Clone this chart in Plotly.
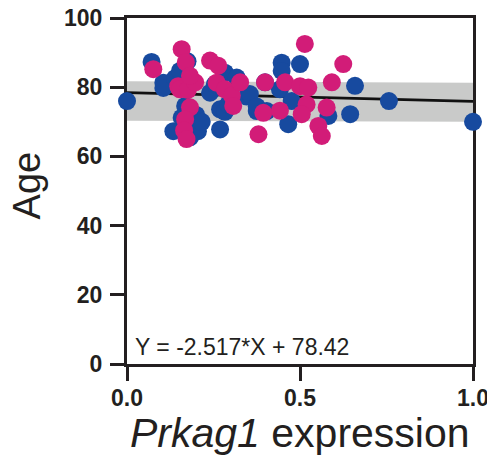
import plotly.graph_objects as go

# ---- data ----
blue_x = [0.00, 0.071, 0.105, 0.105, 0.139, 0.153, 0.175, 0.168, 0.134, 0.158, 0.182, 0.205, 0.197,
          0.200, 0.216, 0.240, 0.254, 0.269, 0.269, 0.283, 0.283, 0.292, 0.317, 0.346, 0.355, 0.375,
          0.375, 0.399, 0.404, 0.447, 0.447, 0.442, 0.500, 0.476, 0.466, 0.582, 0.659, 0.645, 0.757, 1.00]
blue_y = [76.0, 87.3, 81.3, 79.8, 82.6, 84.7, 87.5, 74.6, 67.3, 71.2, 65.5, 67.3, 70.7,
          72.0, 70.0, 78.4, 80.8, 73.6, 67.8, 84.2, 72.9, 75.0, 82.8, 77.3, 78.0, 73.1,
          74.4, 81.4, 73.1, 87.1, 84.7, 79.4, 86.7, 76.0, 69.3, 71.7, 80.4, 72.2, 76.0, 70.0]

pink_x = [0.076, 0.158, 0.170, 0.148, 0.153, 0.176, 0.197, 0.182, 0.240, 0.264, 0.182, 0.168, 0.165,
          0.172, 0.259, 0.283, 0.303, 0.307, 0.327, 0.380, 0.399, 0.394, 0.442, 0.457, 0.514, 0.500,
          0.524, 0.519, 0.505, 0.553, 0.563, 0.577, 0.592, 0.625]
pink_y = [85.2, 91.0, 87.2, 80.3, 79.4, 79.2, 81.4, 83.3, 87.7, 86.2, 74.2, 70.7, 67.5,
          65.0, 81.3, 79.4, 77.6, 74.6, 81.4, 66.4, 81.4, 72.6, 73.2, 81.4, 92.5, 80.3,
          79.9, 75.0, 72.2, 68.8, 65.9, 74.1, 81.4, 86.7]

fit_x = [0.0, 1.0]
fit_y = [78.42, 75.90]

band_x = [0.0, 1.0]
band_upper = [81.7, 81.3]
band_lower = [70.3, 70.0]

x_ticks = [0.0, 0.5, 1.0]
x_ticklabels = ["0.0", "0.5", "1.0"]
y_ticks = [0, 20, 40, 60, 80, 100]
y_ticklabels = ["0", "20", "40", "60", "80", "100"]

equation = "Y = -2.517*X + 78.42"
x_title = "<i>Prkag1</i> expression"
y_title = "Age"

BLUE = "#174a9f"
PINK = "#d21c78"
AXIS = "#231f20"
FONT = "Liberation Sans, Arial, sans-serif"

fig = go.Figure()

# confidence band
fig.add_trace(go.Scatter(
    x=band_x + band_x[::-1],
    y=band_upper + band_lower[::-1],
    fill="toself", fillcolor="#c9cac9", line=dict(width=0),
    mode="lines", hoverinfo="skip", showlegend=False))

# regression line
fig.add_trace(go.Scatter(x=fit_x, y=fit_y, mode="lines",
                         line=dict(color="#111111", width=2.8), showlegend=False))

fig.add_trace(go.Scatter(x=blue_x, y=blue_y, mode="markers",
                         marker=dict(color=BLUE, size=18, line=dict(width=0)),
                         cliponaxis=False, showlegend=False))
fig.add_trace(go.Scatter(x=pink_x, y=pink_y, mode="markers",
                         marker=dict(color=PINK, size=18, line=dict(width=0)),
                         cliponaxis=False, showlegend=False))

tickfont = dict(family=FONT, size=23, color=AXIS, weight="bold")

axis_common = dict(showgrid=False, zeroline=False, showline=True, linecolor=AXIS, linewidth=3,
                   mirror=True, ticks="outside", ticklen=14, tickwidth=3, tickcolor=AXIS,
                   tickfont=tickfont, layer="below traces", automargin=False,
                   ticklabeloverflow="allow")

fig.update_layout(
    width=487, height=455,
    margin=dict(l=127, r=14, t=18, b=91, pad=0),
    paper_bgcolor="white", plot_bgcolor="white",
    xaxis=dict(range=[0, 1], tickvals=x_ticks, ticktext=x_ticklabels,
               ticklabelstandoff=-3, **axis_common),
    yaxis=dict(range=[0, 100], tickvals=y_ticks, ticktext=y_ticklabels,
               ticklabelstandoff=3, **axis_common),
    annotations=[
        dict(text=equation, x=0.018, y=5, xref="x", yref="y", xanchor="left", yanchor="middle",
             showarrow=False, font=dict(family=FONT, size=23, color=AXIS)),
        dict(text=y_title, x=-0.29, y=0.515, xref="paper", yref="paper", textangle=-90,
             xanchor="center", yanchor="middle", showarrow=False,
             font=dict(family=FONT, size=38, color=AXIS)),
        dict(text=x_title, x=0.5, y=-0.198, xref="paper", yref="paper",
             xanchor="center", yanchor="middle", showarrow=False,
             font=dict(family=FONT, size=41, color=AXIS)),
    ],
)

fig.write_html("out.html", config={"displayModeBar": False},
               post_script="document.body.style.margin='0';")
